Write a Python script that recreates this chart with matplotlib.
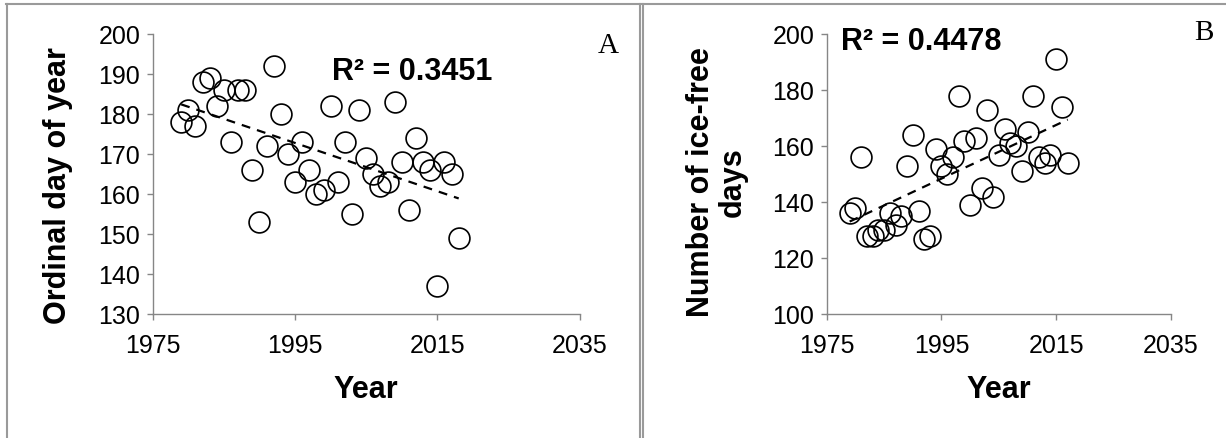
import matplotlib.pyplot as plt
import numpy as np
from matplotlib.lines import Line2D

plt.rcParams['font.family'] = ['Liberation Sans', 'DejaVu Sans']

# ice-off date per year
years_a = [1979, 1980, 1981, 1982, 1983, 1984, 1985, 1986, 1987, 1988,
           1989, 1990, 1991, 1992, 1993, 1994, 1995, 1996, 1997, 1998,
           1999, 2000, 2001, 2002, 2003, 2004, 2005, 2006, 2007, 2008,
           2009, 2010, 2011, 2012, 2013, 2014, 2015, 2016, 2017, 2018]
ice_off_day = [178, 181, 177, 188, 189, 182, 186, 173, 186, 186,
               166, 153, 172, 192, 180, 170, 163, 173, 166, 160,
               161, 182, 163, 173, 155, 181, 169, 165, 162, 163,
               183, 168, 156, 174, 168, 166, 137, 168, 165, 149]

# length of the open-water season per year
years_b = [1979, 1980, 1981, 1982, 1983, 1984, 1985, 1986, 1987, 1988,
           1989, 1990, 1991, 1992, 1993, 1994, 1995, 1996, 1997, 1998,
           1999, 2000, 2001, 2002, 2003, 2004, 2005, 2006, 2007, 2008,
           2009, 2010, 2011, 2012, 2013, 2014, 2015, 2016, 2017]
ice_free_days = [136, 138, 156, 128, 128, 130, 130, 136, 132, 135,
                 153, 164, 137, 127, 128, 159, 153, 150, 156, 178,
                 162, 139, 163, 145, 173, 142, 157, 166, 161, 160,
                 151, 165, 178, 156, 154, 157, 191, 174, 154]

year_ticks = [1975, 1995, 2015, 2035]
r2_a = 'R² = 0.3451'
r2_b = 'R² = 0.4478'

W, H = 1226, 438
AXIS_GREY = '#868686'


def px(x, y):
    return x / W, 1 - y / H


def scatter_panel(ax, x, y, ylim, yticks):
    ax.plot(x, y, 'o', ms=15, mfc='none', mec='black', mew=1.2, zorder=3)

    slope, intercept = np.polyfit(x, y, 1)
    xs = np.array([x[0], x[-1]])
    ax.plot(xs, slope * xs + intercept, color='black', lw=1.6,
            dashes=(4, 3.2), zorder=2)

    ax.set_xlim(1975, 2035)
    ax.set_ylim(*ylim)
    ax.set_xticks(year_ticks)
    ax.set_yticks(yticks)
    for side in ('top', 'right'):
        ax.spines[side].set_visible(False)
    for side in ('left', 'bottom'):
        ax.spines[side].set_color(AXIS_GREY)
        ax.spines[side].set_linewidth(1.0)
    ax.tick_params(axis='both', direction='out', length=4, width=1.0,
                   color=AXIS_GREY, labelsize=18)
    ax.tick_params(axis='x', pad=10)
    ax.tick_params(axis='y', pad=5)


fig = plt.figure(figsize=(W / 100, H / 100), dpi=100)

ax_a = fig.add_axes([152.7 / W, 1 - 314.3 / H, 427 / W, 280 / H])
scatter_panel(ax_a, years_a, ice_off_day, (130, 200), range(130, 201, 10))

ax_b = fig.add_axes([826.7 / W, 1 - 314.3 / H, 344.3 / W, 280 / H])
scatter_panel(ax_b, years_b, ice_free_days, (100, 200), range(100, 201, 20))

# axis titles
fig.text(*px(58, 186), 'Ordinal day of year', rotation=90, ha='center',
         va='center', fontsize=22, fontweight='bold')
fig.text(*px(717, 182), 'Number of ice-free\ndays', rotation=90,
         ha='center', va='center', fontsize=22, fontweight='bold',
         linespacing=1.1, multialignment='center')
fig.text(*px(366, 398), 'Year', ha='center', va='baseline', fontsize=22,
         fontweight='bold')
fig.text(*px(999, 398), 'Year', ha='center', va='baseline', fontsize=22,
         fontweight='bold')

# fit statistics
fig.text(*px(331.7, 80), r2_a, ha='left', va='baseline', fontsize=22,
         fontweight='bold')
fig.text(*px(841, 50), r2_b, ha='left', va='baseline', fontsize=22,
         fontweight='bold')

# panel letters
fig.text(*px(608, 53), 'A', ha='center', va='baseline', fontsize=21,
         family=['Liberation Serif'])
fig.text(*px(1204, 40), 'B', ha='center', va='baseline', fontsize=21,
         family=['Liberation Serif'])

# table frame around the two panels
frame = '#9a9a9a'
fig.add_artist(Line2D([6 / W, 1], [1 - 4 / H, 1 - 4 / H], color=frame,
                      lw=1.5, transform=fig.transFigure))
for xp in (6.5, 639.5, 643):
    fig.add_artist(Line2D([xp / W, xp / W], [0, 1 - 4 / H], color=frame,
                          lw=1.5, transform=fig.transFigure))

fig.savefig('out.png', dpi=100)
